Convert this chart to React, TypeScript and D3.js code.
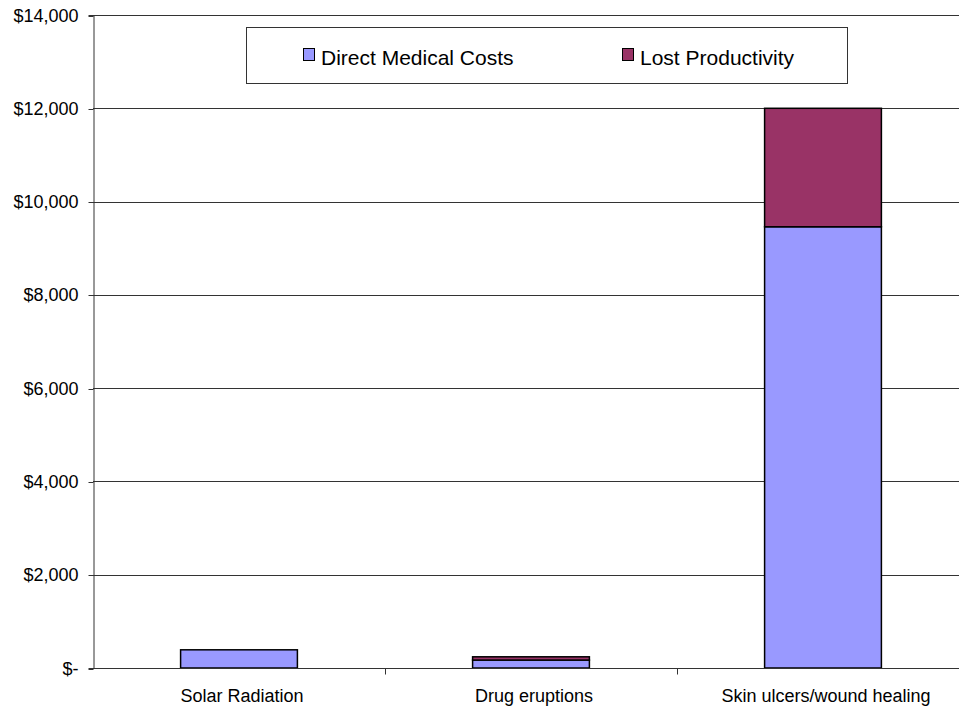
import * as d3 from "d3";
import { useEffect, useRef } from "react";

const categories = ["Solar Radiation", "Drug eruptions", "Skin ulcers/wound healing"];
const seriesNames = ["Direct Medical Costs", "Lost Productivity"];
const directCosts = [390, 170, 9460];
const lostProductivity = [0, 70, 2540];
const yTicks = [0, 2000, 4000, 6000, 8000, 10000, 12000, 14000];
const colors = ["#9999ff", "#993366"];

const App = () => {
  const ref = useRef<SVGSVGElement | null>(null);

  useEffect(() => {
    if (!ref.current) return;
    const svg = d3.select(ref.current);
    svg.selectAll("*").remove();

    const width = 959;
    const height = 707;
    const margin = { top: 15, right: 0, bottom: 39, left: 93 };
    const font = "Arial, 'Liberation Sans', sans-serif";

    svg.append("rect").attr("width", width).attr("height", height).attr("fill", "#fff");

    const x = d3
      .scaleBand<string>()
      .domain(categories)
      .range([margin.left, margin.left + 876])
      .padding(0);

    const y = d3
      .scaleLinear()
      .domain([0, 14000])
      .range([height - margin.bottom, margin.top]);

    // gridlines
    svg
      .append("g")
      .selectAll("line")
      .data(yTicks.slice(1))
      .join("line")
      .attr("x1", margin.left)
      .attr("x2", width)
      .attr("y1", (d) => Math.round(y(d)) + 0.5)
      .attr("y2", (d) => Math.round(y(d)) + 0.5)
      .attr("stroke", "#333")
      .attr("stroke-width", 1);

    // y axis
    const fmt = (d: number) => (d === 0 ? "$-" : "$" + d3.format(",")(d));
    const yAxis = svg
      .append("g")
      .attr("transform", `translate(${margin.left + 0.5},0)`)
      .call(
        d3
          .axisLeft(y)
          .tickValues(yTicks)
          .tickSize(5)
          .tickPadding(10)
          .tickFormat((d) => fmt(+d))
      );
    yAxis.select(".domain").attr("stroke", "#333");
    yAxis.selectAll(".tick line").attr("stroke", "#333");
    yAxis
      .selectAll(".tick text")
      .attr("fill", "#000")
      .style("font-family", font)
      .style("font-size", "18px");
    yAxis.selectAll(".tick").attr("transform", function () {
      const t = d3.select(this).attr("transform");
      const m = /translate\(0,([\d.]+)\)/.exec(t);
      return m ? `translate(0,${Math.round(+m[1]) + 0.5})` : t;
    });

    // stacked bars
    const barW = x.bandwidth() * 0.4;
    const stackData = categories.map((c, i) => ({
      cat: c,
      [seriesNames[0]]: directCosts[i],
      [seriesNames[1]]: lostProductivity[i],
    }));
    const stack = d3.stack<any>().keys(seriesNames)(stackData);

    svg
      .append("g")
      .selectAll("g")
      .data(stack)
      .join("g")
      .attr("fill", (_, i) => colors[i])
      .selectAll("rect")
      .data((s) => s.filter((d) => d[1] - d[0] > 0))
      .join("rect")
      .attr("x", (d) => x(d.data.cat)! + (x.bandwidth() - barW) / 2)
      .attr("width", barW)
      .attr("y", (d) => y(d[1]))
      .attr("height", (d) => y(d[0]) - y(d[1]))
      .attr("stroke", "#000")
      .attr("stroke-width", 1.5);

    // x axis
    const baseY = Math.round(y(0)) + 0.5;
    svg
      .append("line")
      .attr("x1", margin.left)
      .attr("x2", width)
      .attr("y1", baseY)
      .attr("y2", baseY)
      .attr("stroke", "#333");
    svg
      .append("g")
      .selectAll("line")
      .data(categories.slice(1))
      .join("line")
      .attr("x1", (d) => Math.round(x(d)!) + 0.5)
      .attr("x2", (d) => Math.round(x(d)!) + 0.5)
      .attr("y1", baseY)
      .attr("y2", baseY + 6)
      .attr("stroke", "#333");
    svg
      .append("g")
      .selectAll("text")
      .data(categories)
      .join("text")
      .attr("x", (d) => x(d)! + x.bandwidth() / 2 + 3)
      .attr("y", baseY + 33)
      .attr("text-anchor", "middle")
      .style("font-family", font)
      .style("font-size", "18px")
      .text((d) => d);

    // legend
    const lg = svg.append("g");
    lg.append("rect")
      .attr("x", 246.5)
      .attr("y", 27.5)
      .attr("width", 601)
      .attr("height", 56)
      .attr("fill", "#fff")
      .attr("stroke", "#333");
    const legendX = [303, 622];
    seriesNames.forEach((name, i) => {
      lg.append("rect")
        .attr("x", legendX[i] + 0.5)
        .attr("y", 48.5)
        .attr("width", 11)
        .attr("height", 12)
        .attr("fill", colors[i])
        .attr("stroke", "#000");
      lg.append("text")
        .attr("x", legendX[i] + 18)
        .attr("y", 65)
        .style("font-family", font)
        .style("font-size", "21px")
        .text(name);
    });
  }, []);

  return (
    <svg
      ref={ref}
      width={959}
      height={707}
      style={{ position: "absolute", left: 0, top: 0, display: "block" }}
    />
  );
};

export default App;
